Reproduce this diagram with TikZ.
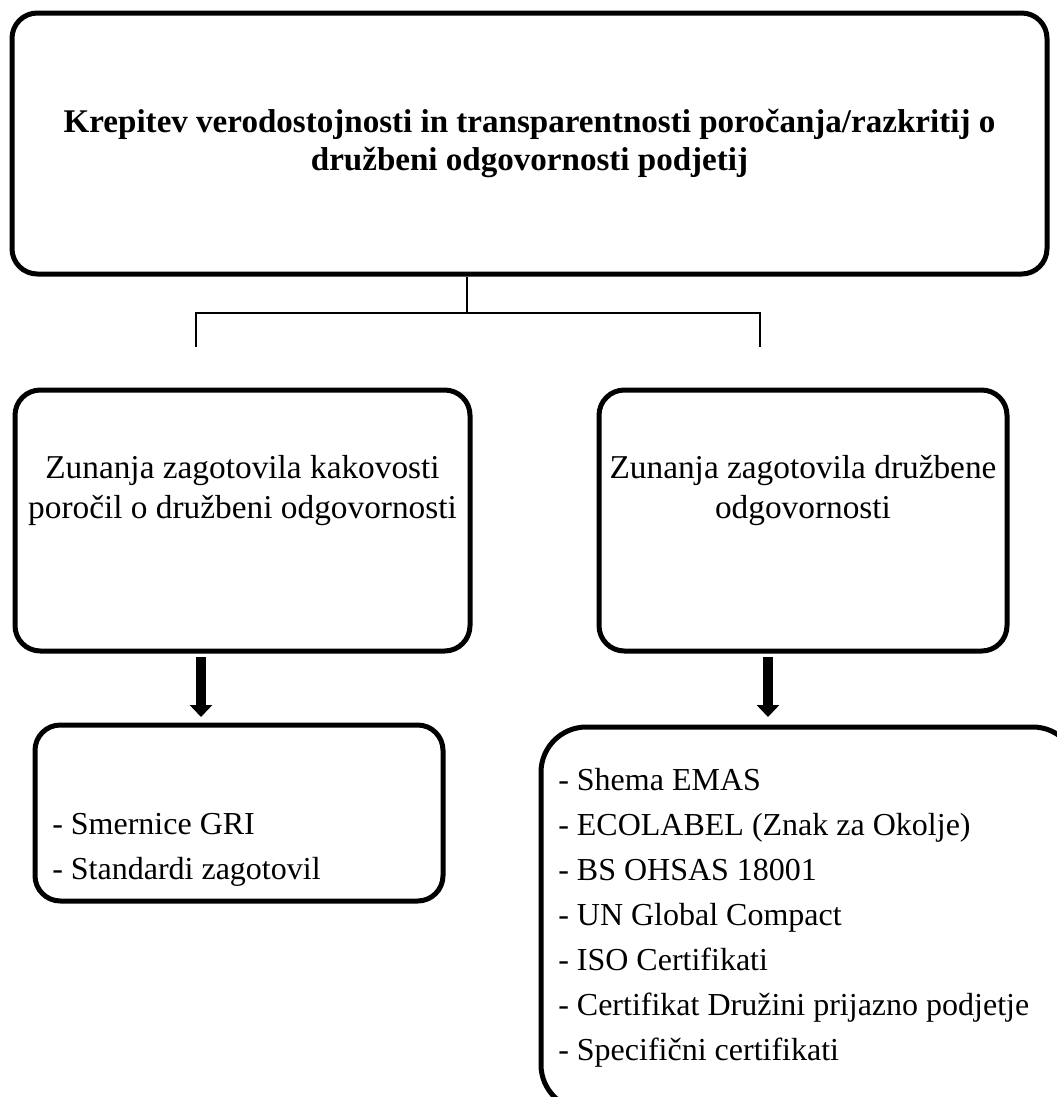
\documentclass[tikz,border=0pt]{standalone}
\usepackage{fontspec}
\setmainfont{Liberation Serif}
\usetikzlibrary{arrows.meta}
\begin{document}
\begin{tikzpicture}[x=0.75pt, y=-0.75pt,
  box/.style={draw, line width=3.75pt, rounded corners=19pt, inner sep=0pt},
  link/.style={line width=1.5pt},
  down/.style={line width=7.5pt, -{Triangle[width=16.5pt, length=9pt]}},
  headtxt/.style={font=\fontsize{24.8}{28.5}\selectfont\bfseries, align=center, inner sep=0pt},
  midtxt/.style={font=\fontsize{25}{30}\selectfont, align=center, inner sep=0pt},
  listtxt/.style={font=\fontsize{24}{33.75}\selectfont, align=left, inner sep=0pt}]
\useasboundingbox (0,0) rectangle (1057,1097);

\def\px{0.75pt}

% boxes
\node[box, minimum width=1035*\px, minimum height=261*\px] (top) at (529.5,143.5) {};
\node[box, minimum width=455*\px, minimum height=261*\px] (left) at (242.5,520.5) {};
\node[box, minimum width=408*\px, minimum height=261*\px] (right) at (803,520.5) {};
\node[box, minimum width=408*\px, minimum height=176*\px] (lbot) at (239,813) {};
\node[box, rounded corners=34pt, minimum width=537*\px, minimum height=383*\px] (rbot) at (809.5,918.5) {};

% texts
\node[headtxt] (title) at (top.center) {Krepitev verodostojnosti in transparentnosti poročanja/razkritij o\\družbeni odgovornosti podjetij};
\node[midtxt, anchor=north] (ltext) at (242.5,455) {Zunanja zagotovila kakovosti\\poročil o družbeni odgovornosti};
\node[midtxt, anchor=north] (rtext) at (803,455) {Zunanja zagotovila družbene\\odgovornosti};
\node[listtxt, anchor=north west] (llist) at (52,813) {- Smernice GRI\\- Standardi zagotovil};
\node[listtxt, anchor=north west] (rlist) at (558,768) {- Shema EMAS\\- ECOLABEL (Znak za Okolje)\\- BS OHSAS 18001\\- UN Global Compact\\- ISO Certifikati\\- Certifikat Družini prijazno podjetje\\- Specifični certifikati};

% connectors
\coordinate (split) at (467,313);
\coordinate (lstub) at (196,347);
\coordinate (rstub) at (760,347);
\draw[link] (top.south -| split) -- (split);
\draw[link] (lstub) -- (lstub |- split) -- (rstub |- split) -- (rstub);

\coordinate (la) at (201,657);
\coordinate (lb) at (201,717);
\coordinate (ra) at (768,657);
\coordinate (rb) at (768,717);
\draw[down] (la) -- (lb);
\draw[down] (ra) -- (rb);
\end{tikzpicture}
\end{document}
